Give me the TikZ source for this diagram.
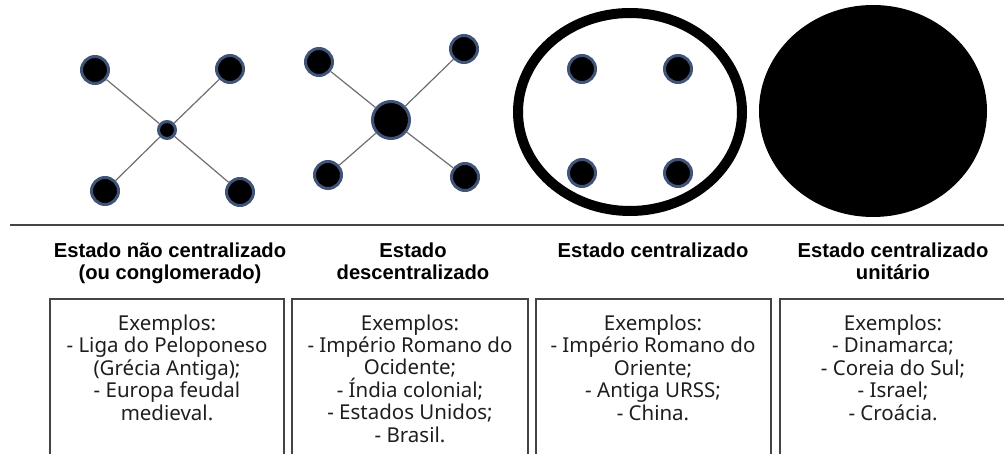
\documentclass[tikz,border=0pt]{standalone}
\usepackage{fontspec}
\setmainfont{Noto Sans}
\newfontfamily\headfont{Liberation Sans}
\usetikzlibrary{positioning}
\definecolor{dotrim}{HTML}{3F5478}
\definecolor{linkgray}{HTML}{6E6E6E}
\definecolor{framegray}{HTML}{444444}
\definecolor{textgray}{HTML}{1E1E1E}

\begin{document}
\begin{tikzpicture}[x=1pt,y=-1pt]
          \tikzstyle{dot} = [circle, fill=black, draw=dotrim, line width=3pt, minimum size=27pt, inner sep=0pt]
          \tikzstyle{link} = [draw=linkgray, line width=1.2pt]
          \tikzstyle{frame} = [draw=framegray, line width=1.3pt]
          \tikzstyle{heading} = [align=center, anchor=base, inner sep=0pt, font=\headfont\bfseries\fontsize{20.2}{22.5}\selectfont]
          \tikzstyle{examples} = [align=center, anchor=base, inner sep=0pt, text=textgray, font=\fontsize{20.5}{22.4}\selectfont]

          \useasboundingbox (0,0) rectangle (1004,454);
          \clip (0,0) rectangle (1004,454);

          % nao centralizado
          \node[dot, minimum size=17pt] (nc) at (167,130) {};
          \node[dot] (nc1) at (95,70) {};
          \node[dot] (nc2) at (230,69) {};
          \node[dot] (nc3) at (105,191) {};
          \node[dot] (nc4) at (240,192) {};
          \draw[link] (nc) to (nc1);
          \draw[link] (nc) to (nc2);
          \draw[link] (nc) to (nc3);
          \draw[link] (nc) to (nc4);

          % descentralizado
          \node[dot, minimum size=37pt] (dc) at (391,120) {};
          \node[dot] (dc1) at (319,62) {};
          \node[dot] (dc2) at (464,49) {};
          \node[dot] (dc3) at (328,175) {};
          \node[dot] (dc4) at (465,177) {};
          \draw[link] (dc) to (dc1);
          \draw[link] (dc) to (dc2);
          \draw[link] (dc) to (dc3);
          \draw[link] (dc) to (dc4);

          % centralizado
          \draw[line width=10pt] (630,112) ellipse [x radius=112, y radius=99];
          \node[dot] (ce1) at (582,69) {};
          \node[dot] (ce2) at (678,69) {};
          \node[dot] (ce3) at (582,173) {};
          \node[dot] (ce4) at (678,173) {};

          % unitario
          \fill (873,111) ellipse [x radius=114, y radius=106];

          \draw[draw=framegray, line width=1.5pt] (10,225) -- (1004,225);

          % base = last line
          \node[heading] (h1) at (170,280) {Estado não centralizado\\(ou conglomerado)};
          \node[heading] (h2) at (413,280) {Estado\\descentralizado};
          \node[heading] (h3) at (653,258) {Estado centralizado};
          \node[heading] (h4) at (893,280) {Estado centralizado\\unitário};

          \draw[frame] (50,470) |- (284,299) -- (284,470);
          \draw[frame] (292,470) |- (528,299) -- (528,470);
          \draw[frame] (536,470) |- (771,299) -- (771,470);
          \draw[frame] (780,470) |- (1010,299);

          \node[examples] (e1) at (167,420) {Exemplos:\\- Liga do Peloponeso\\(Grécia Antiga);\\- Europa feudal\\medieval.};
          \node[examples] (e2) at (410,442) {Exemplos:\\- Império Romano do\\Ocidente;\\- Índia colonial;\\- Estados Unidos;\\- Brasil.};
          \node[examples] (e3) at (653,420) {Exemplos:\\- Império Romano do\\Oriente;\\- Antiga URSS;\\- China.};
          \node[examples] (e4) at (893,420) {Exemplos:\\- Dinamarca;\\- Coreia do Sul;\\- Israel;\\- Croácia.};
        \end{tikzpicture}
\end{document}
